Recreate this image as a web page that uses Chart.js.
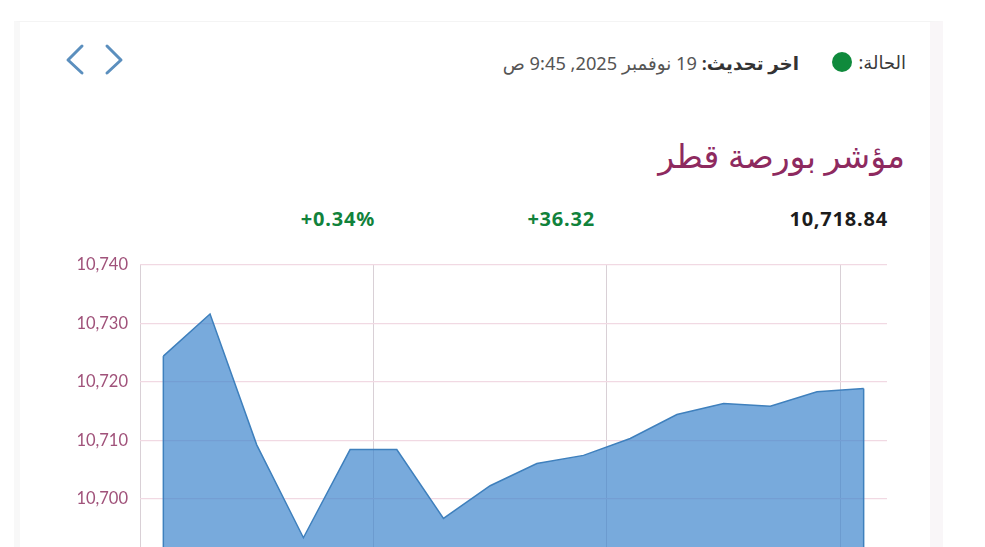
<!DOCTYPE html>
<html lang="ar">
<head>
<meta charset="utf-8">
<title>مؤشر بورصة قطر</title>
<script src="https://cdn.jsdelivr.net/npm/chart.js@4/dist/chart.umd.min.js"></script>
<style>
  html, body { margin: 0; height: 547px; overflow: hidden; background: #fff; }
  body { position: relative; width: 985px; font-family: "Noto Sans", "DejaVu Sans", sans-serif; }
  .card { position: absolute; left: 14px; top: 21px; width: 910px; height: 600px; background: #fff;
    border-left: 6px solid #f8f8f8; border-top: 1px solid #f4f4f4; border-right: 13px solid #f9f6f8; }
  .txt { position: absolute; white-space: nowrap; }
  #status { right: 79px; top: 50px; font-size: 18px; color: #3a3a3a; direction: rtl; }
  #dot { position: absolute; left: 832px; top: 52px; width: 20px; height: 20px; border-radius: 50%; background: #0f8a3c; }
  #updated { right: 186px; top: 50px; font-size: 18.25px; color: #555; direction: rtl; }
  #updated b { color: #333; font-weight: 600; }
  #title { right: 80px; top: 133px; font-size: 33px; color: #8e2a5f; direction: rtl; }
  .num { font-family: "Noto Sans", sans-serif; font-size: 20px; font-weight: 700; letter-spacing: 0.8px; top: 205px; }
  #last { right: 97px; color: #1c1c1c; }
  #chg { right: 390px; color: #11823b; }
  #pct { right: 610px; color: #11823b; }
  #nav { position: absolute; left: 64px; top: 42px; }
  #box { position: absolute; left: 0; top: 0; width: 985px; height: 600px; }
</style>
</head>
<body>
<div class="card"></div>
<svg id="nav" width="62" height="36" fill="none" stroke="#5b8fbe" stroke-width="3" stroke-linecap="round" stroke-linejoin="round">
  <polyline points="18,4 4,18 18,31"/>
  <polyline points="43,4 57,18 43,31"/>
</svg>
<div class="txt" id="status">الحالة:</div>
<div id="dot"></div>
<div class="txt" id="updated"><b>اخر تحديث:</b> 19 نوفمبر 2025, 9:45 ص</div>
<div class="txt" id="title">مؤشر بورصة قطر</div>
<div class="txt num" id="last">10,718.84</div>
<div class="txt num" id="chg">+36.32</div>
<div class="txt num" id="pct">+0.34%</div>
<div id="box"><canvas id="chart"></canvas></div>
<script>
const times = ["9:30","9:31","9:32","9:33","9:34","9:35","9:36","9:37","9:38","9:39","9:40","9:41","9:42","9:43","9:44","9:45"];
const index = [10724.4,10731.6,10709.2,10693.3,10708.4,10708.4,10696.6,10702.2,10706.0,10707.4,10710.3,10714.4,10716.3,10715.8,10718.3,10718.84];
const yMin = 10690;
const yMax = 10740;
const yStep = 10;

// closes the area on both sides, the line dataset only strokes the top
const edges = {
  id: "edges",
  afterDatasetsDraw(chart) {
    const pts = chart.getDatasetMeta(0).data;
    const bottom = chart.scales.y.bottom;
    const ctx = chart.ctx;
    ctx.save();
    ctx.strokeStyle = "#3f80bd";
    ctx.lineWidth = 1.5;
    [pts[0], pts[pts.length - 1]].forEach((p) => {
      ctx.beginPath();
      ctx.moveTo(p.x, p.y);
      ctx.lineTo(p.x, bottom);
      ctx.stroke();
    });
    ctx.restore();
  },
};

new Chart(document.getElementById("chart"), {
  type: "line",
  data: {
    labels: times,
    datasets: [
      {
        data: index,
        borderColor: "#3f80bd",
        borderWidth: 1.5,
        backgroundColor: "rgba(56,129,203,0.68)",
        fill: "start",
        tension: 0,
        pointRadius: 0,
      },
    ],
  },
  options: {
    responsive: true,
    maintainAspectRatio: false,
    animation: false,
    layout: { padding: { top: 265, right: 98, left: 0, bottom: 0 } },
    plugins: { legend: { display: false }, tooltip: { enabled: false } },
    scales: {
      x: {
        offset: true,
        border: { color: "#ded9dc" },
        grid: {
          offset: true,
          drawTicks: false,
          // a line every 5 minutes, the label-less ticks stay in so the index holds
          color: (c) => (c.index % 5 === 0 ? "#d9d0d6" : "transparent"),
        },
        ticks: {
          autoSkip: false,
          maxRotation: 0,
          padding: 8,
          color: "#99496f",
          font: { family: "Lato", size: 15 },
          callback: (v, i) => (i % 5 === 0 ? times[i] : ""),
        },
        afterFit: (s) => { s.height = 43; },
      },
      y: {
        min: yMin,
        max: yMax,
        border: { display: false },
        grid: { color: "#f1d9e3", lineWidth: 1.25, drawTicks: false },
        ticks: {
          stepSize: yStep,
          padding: 12,
          color: "#a0527a",
          font: { family: "Lato", size: 16.5 },
          callback: (v) => v.toLocaleString("en-US"),
        },
        afterFit: (s) => { s.width = 140; },
      },
    },
  },
  plugins: [edges],
});
</script>
</body>
</html>
